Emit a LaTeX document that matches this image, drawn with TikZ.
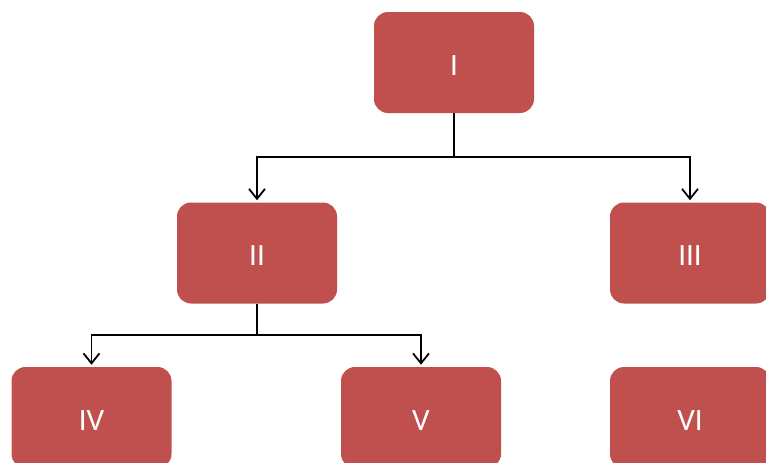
\documentclass[tikz,border=0pt]{standalone}
\usepackage{fontspec}
\setmainfont{Carlito}
\usetikzlibrary{arrows.meta}
\definecolor{boxred}{HTML}{C0504D}
\begin{document}
\begin{tikzpicture}[x=1pt,y=-1pt,
 box/.style={fill=boxred, rounded corners=14pt, minimum width=160pt, minimum height=101pt, text=white, font=\fontsize{31}{34}\selectfont, inner sep=0pt, text height=25pt, text depth=0pt},
 conn/.style={line width=1.8pt, shorten >=2pt, -{Straight Barb[length=10pt,width=16pt,line width=1.8pt]}},
 stem/.style={line width=1.8pt}
]
\useasboundingbox (0,0) rectangle (766,463);
\clip (0,0) rectangle (766,463);
\node[box] (I) at (454,62.5) {I};
\node[box] (II) at (257,253) {II};
\node[box] (III) at (690,253) {III};
\node[box] (IV) at (91.5,417.5) {IV};
\node[box] (V) at (421,417.5) {V};
\node[box] (VI) at (690,417.5) {VI};
\coordinate (j1) at (454,157);
\coordinate (j2) at (257,335);
\draw[stem] (I.south) -- (j1);
\draw[conn] (j1) -| (II.north);
\draw[conn] (j1) -| (III.north);
\draw[stem] (II.south) -- (j2);
\draw[conn] (j2) -| (IV.north);
\draw[conn] (j2) -| (V.north);
\end{tikzpicture}
\end{document}
